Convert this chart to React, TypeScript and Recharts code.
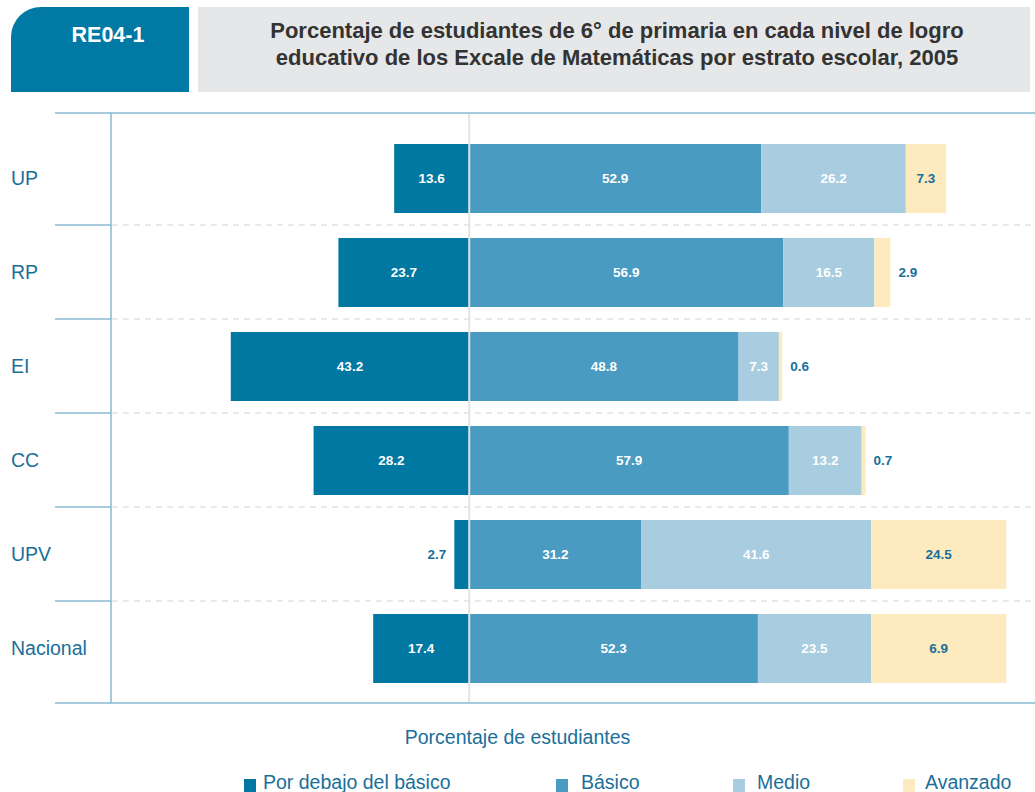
import React from 'react';
import { BarChart, Bar, XAxis, YAxis, ReferenceLine, LabelList } from 'recharts';

// ---- data ----
const categories = ['UP', 'RP', 'EI', 'CC', 'UPV', 'Nacional'];
const porDebajo = [13.6, 23.7, 43.2, 28.2, 2.7, 17.4];
const basico = [52.9, 56.9, 48.8, 57.9, 31.2, 52.3];
// bar lengths as drawn in the reference (Nacional Medio/Avanzado are drawn differently from their labels)
const medio = [26.2, 16.5, 7.3, 13.2, 41.6, 20.5];
const avanzado = [7.3, 2.9, 0.6, 0.7, 24.5, 24.5];
const porDebajoLabels = ['13.6', '23.7', '43.2', '28.2', '2.7', '17.4'];
const basicoLabels = ['52.9', '56.9', '48.8', '57.9', '31.2', '52.3'];
const medioLabels = ['26.2', '16.5', '7.3', '13.2', '41.6', '23.5'];
const avanzadoLabels = ['7.3', '2.9', '0.6', '0.7', '24.5', '6.9'];
const seriesNames = ['Por debajo del básico', 'Básico', 'Medio', 'Avanzado'];
const seriesColors = ['#0078a2', '#4a9bc1', '#a8cce0', '#fdeabf'];
const xDomain = [-64.9, 102.5];

// ---- layout / style constants ----
const W = 1035;
const H = 792;
const PLOT_TOP = 113;
const PLOT_BOTTOM = 703;
const Y_AXIS_W = 111;
const PAD_TOP = 18;
const PAD_BOTTOM = 8;
const LABEL_X = 11;
const SEP_LEFT = 55;
const FONT = '"Liberation Sans", Arial, Helvetica, sans-serif';
const BLUE_TEXT = '#1a6f99';
const FRAME = '#88b9d3';
const DASH = '#e2e2e2';
const TEXT_SIZE = 19.5;
const legendX = [244, 556, 733, 903];
const legendGap = [7, 13, 12, 10];

const data = categories.map((c, i) => ({
  category: c,
  porDebajo: -porDebajo[i],
  basico: basico[i],
  medio: medio[i],
  avanzado: avanzado[i],
  porDebajoLabel: porDebajoLabels[i],
  basicoLabel: basicoLabels[i],
  medioLabel: medioLabels[i],
  avanzadoLabel: avanzadoLabels[i],
}));

const makeLabel = (insideColor: string, side: 'left' | 'right') => (props: any) => {
  const vb = props.viewBox && props.viewBox.width !== undefined ? props.viewBox : props;
  const x = Number(vb.x);
  const w = Number(vb.width);
  const y = Number(vb.y);
  const h = Number(vb.height);
  const x0 = Math.min(x, x + w);
  const aw = Math.abs(w);
  const cy = y + h / 2;
  const common = {
    y: cy,
    dominantBaseline: 'central' as const,
    fontFamily: FONT,
    fontSize: 13.5,
    fontWeight: 700,
  };
  if (aw < 20) {
    if (side === 'left') {
      return (
        <text {...common} x={x0 - 8} textAnchor="end" fill={BLUE_TEXT}>
          {props.value}
        </text>
      );
    }
    return (
      <text {...common} x={x0 + aw + 8} textAnchor="start" fill={BLUE_TEXT}>
        {props.value}
      </text>
    );
  }
  return (
    <text {...common} x={x0 + aw / 2} textAnchor="middle" fill={insideColor}>
      {props.value}
    </text>
  );
};

const CategoryTick = (props: any) => {
  const { y, payload, index } = props;
  const half =
    payload && payload.offset
      ? payload.offset
      : (PLOT_BOTTOM - PLOT_TOP - PAD_TOP - PAD_BOTTOM) / categories.length / 2;
  const n = categories.length;
  return (
    <g>
      <text x={LABEL_X} y={y} dominantBaseline="central" fill={BLUE_TEXT} fontSize={TEXT_SIZE} fontFamily={FONT}>
        {payload.value}
      </text>
      {index < n - 1 && (
        <g>
          <line x1={SEP_LEFT} x2={Y_AXIS_W} y1={y + half} y2={y + half} stroke={FRAME} strokeWidth={1.5} />
          <line
            x1={Y_AXIS_W + 1}
            x2={W}
            y1={y + half}
            y2={y + half}
            stroke={DASH}
            strokeWidth={1.5}
            strokeDasharray="6 5"
          />
        </g>
      )}
      {index === 0 && (
        <line x1={SEP_LEFT} x2={W} y1={y - half - PAD_TOP} y2={y - half - PAD_TOP} stroke={FRAME} strokeWidth={1.5} />
      )}
      {index === n - 1 && (
        <line
          x1={SEP_LEFT}
          x2={W}
          y1={y + half + PAD_BOTTOM}
          y2={y + half + PAD_BOTTOM}
          stroke={FRAME}
          strokeWidth={1.5}
        />
      )}
    </g>
  );
};

export default function App() {
  return (
    <div
      style={{
        position: 'absolute',
        left: 0,
        top: 0,
        width: W,
        height: H,
        overflow: 'hidden',
        background: '#fff',
        fontFamily: FONT,
      }}
    >
      {/* header tab */}
      <div
        style={{
          position: 'absolute',
          left: 11,
          top: 7,
          width: 178,
          height: 85,
          background: '#0079a5',
          borderTopLeftRadius: 30,
        }}
      />
      <div
        style={{
          position: 'absolute',
          left: 58,
          top: 22,
          width: 100,
          textAlign: 'center',
          color: '#fff',
          fontWeight: 700,
          fontSize: 21.5,
          lineHeight: '26px',
        }}
      >
        RE04-1
      </div>
      <div
        style={{
          position: 'absolute',
          left: 198,
          top: 7,
          width: 832,
          height: 85,
          background: '#e6e7e8',
        }}
      />
      <div
        style={{
          position: 'absolute',
          left: 204,
          top: 17,
          width: 826,
          textAlign: 'center',
          color: '#333333',
          fontWeight: 700,
          fontSize: 22,
          lineHeight: '27px',
          whiteSpace: 'nowrap',
        }}
      >
        Porcentaje de estudiantes de 6° de primaria en cada nivel de logro
        <br />
        educativo de los Excale de Matemáticas por estrato escolar, 2005
      </div>

      <div style={{ position: 'absolute', left: 0, top: 0 }}>
        <BarChart
          width={W}
          height={H}
          data={data}
          layout="vertical"
          stackOffset="sign"
          barSize={69}
          margin={{ top: PLOT_TOP, right: 0, bottom: H - PLOT_BOTTOM, left: 0 }}
        >
          <XAxis type="number" domain={xDomain} allowDataOverflow hide />
          <YAxis
            type="category"
            dataKey="category"
            width={Y_AXIS_W}
            interval={0}
            padding={{ top: PAD_TOP, bottom: PAD_BOTTOM }}
            tickLine={false}
            axisLine={{ stroke: FRAME, strokeWidth: 1.5 }}
            tick={<CategoryTick />}
          />
          <Bar dataKey="porDebajo" stackId="a" fill={seriesColors[0]} isAnimationActive={false}>
            <LabelList dataKey="porDebajoLabel" content={makeLabel('#ffffff', 'left')} />
          </Bar>
          <Bar dataKey="basico" stackId="a" fill={seriesColors[1]} isAnimationActive={false}>
            <LabelList dataKey="basicoLabel" content={makeLabel('#ffffff', 'right')} />
          </Bar>
          <Bar dataKey="medio" stackId="a" fill={seriesColors[2]} isAnimationActive={false}>
            <LabelList dataKey="medioLabel" content={makeLabel('#ffffff', 'right')} />
          </Bar>
          <Bar dataKey="avanzado" stackId="a" fill={seriesColors[3]} isAnimationActive={false}>
            <LabelList dataKey="avanzadoLabel" content={makeLabel(BLUE_TEXT, 'right')} />
          </Bar>
          <ReferenceLine x={0} stroke="#e3e3e3" strokeWidth={2} />
        </BarChart>
      </div>

      {/* axis title */}
      <div
        style={{
          position: 'absolute',
          left: 0,
          top: 725,
          width: W,
          textAlign: 'center',
          color: BLUE_TEXT,
          fontSize: TEXT_SIZE,
          lineHeight: '24px',
        }}
      >
        Porcentaje de estudiantes
      </div>

      {/* legend */}
      {seriesNames.map((name, i) => (
        <div
          key={name}
          style={{
            position: 'absolute',
            left: legendX[i],
            top: 770,
            height: 24,
            display: 'flex',
            alignItems: 'center',
            whiteSpace: 'nowrap',
          }}
        >
          <div style={{ width: 12, height: 13, background: seriesColors[i], marginRight: legendGap[i], marginTop: 6 }} />
          <span style={{ color: BLUE_TEXT, fontSize: TEXT_SIZE, lineHeight: '24px' }}>{name}</span>
        </div>
      ))}
    </div>
  );
}
